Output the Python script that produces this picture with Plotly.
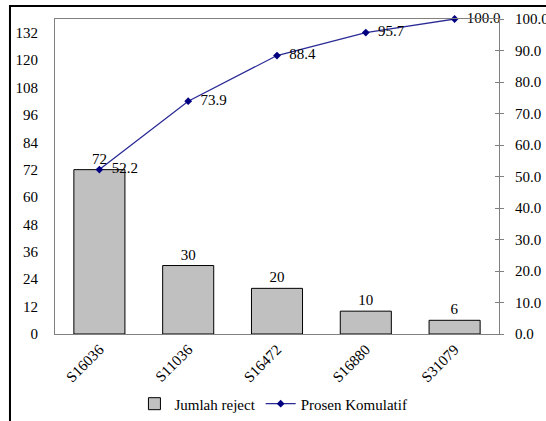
import plotly.graph_objects as go

categories = ["S16036", "S11036", "S16472", "S16880", "S31079"]
reject_counts = [72, 30, 20, 10, 6]
cumulative_pct = [52.2, 73.9, 88.4, 95.7, 100.0]
left_ticks = [0, 12, 24, 36, 48, 60, 72, 84, 96, 108, 120, 132]
right_ticks = [0, 10, 20, 30, 40, 50, 60, 70, 80, 90, 100]

FONT = "Liberation Serif"
FS = 15
total = sum(reject_counts)

fig = go.Figure()
fig.add_trace(go.Bar(
    x=categories, y=reject_counts, name="Jumlah reject",
    marker=dict(color="#c0c0c0", line=dict(color="#000000", width=1)),
    text=[str(v) for v in reject_counts], textposition="outside",
    textfont=dict(family=FONT, size=FS, color="#000000"),
    cliponaxis=False,
))
fig.add_trace(go.Scatter(
    x=categories, y=cumulative_pct, name="Prosen Komulatif", yaxis="y2",
    mode="lines+markers+text",
    line=dict(color="#2a2a96", width=1.3),
    marker=dict(symbol="diamond", size=6, color="#000080"),
    text=["  " + f"{v:.1f}" for v in cumulative_pct], textposition="middle right",
    textfont=dict(family=FONT, size=FS, color="#000000"),
    cliponaxis=False,
))
# invisible helper trace for inside tick marks on the right axis
fig.add_trace(go.Scatter(x=categories, y=cumulative_pct, yaxis="y3",
                         mode="markers", marker=dict(opacity=0),
                         showlegend=False, hoverinfo="skip"))

fig.update_layout(
    width=546, height=421,
    margin=dict(l=55, r=47, t=19, b=87, autoexpand=False),
    paper_bgcolor="white", plot_bgcolor="white",
    font=dict(family=FONT, size=FS, color="#000000"),
    bargap=0.425,
    xaxis=dict(
        showline=True, linecolor="#808080", linewidth=1, mirror=True,
        ticks="", tickangle=-45, showgrid=False, automargin=False,
        tickfont=dict(family=FONT, size=FS, color="#000000"),
    ),
    yaxis=dict(
        range=[0, total], tickvals=left_ticks, showgrid=False, zeroline=False,
        showline=True, linecolor="#808080", linewidth=1, ticks="",
        ticklabelstandoff=13, automargin=False,
        tickfont=dict(family=FONT, size=FS, color="#000000"),
    ),
    yaxis2=dict(
        range=[0, 100], tickvals=right_ticks, tickformat=".1f",
        overlaying="y", side="right", showgrid=False, zeroline=False,
        showline=True, linecolor="#808080", linewidth=1,
        ticks="outside", ticklen=4, tickcolor="#808080",
        ticklabelstandoff=8, automargin=False,
        tickfont=dict(family=FONT, size=FS, color="#000000"),
    ),
    yaxis3=dict(
        range=[0, 100], tickvals=right_ticks, overlaying="y", side="right",
        showgrid=False, zeroline=False, showticklabels=False, automargin=False,
        ticks="inside", ticklen=4, tickcolor="#808080", showline=False,
    ),
    legend=dict(orientation="h", x=0.492, xanchor="center", y=-0.222,
                yanchor="middle", font=dict(family=FONT, size=FS, color="#000000"),
                tracegroupgap=0),
    showlegend=True,
)

# outer document frame
fig.add_shape(type="rect", xref="paper", yref="paper", layer="above",
              x0=-0.1014, y0=-0.5, x1=1.3, y1=1.041,
              line=dict(color="#000000", width=2), fillcolor="rgba(0,0,0,0)")

fig.write_html("out.html", config={"displayModeBar": False},
               post_script="document.body.style.margin='0';document.body.style.overflow='hidden';")
